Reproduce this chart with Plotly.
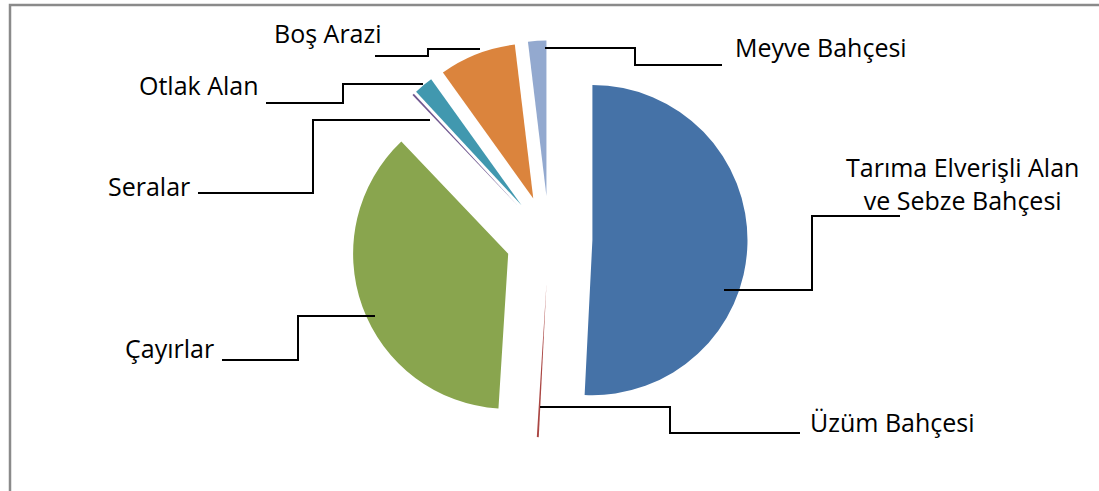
import plotly.graph_objects as go

# ---- data ----
categories = ["Tarıma Elverişli Alan ve Sebze Bahçesi", "Üzüm Bahçesi", "Çayırlar",
              "Seralar", "Otlak Alan", "Boş Arazi", "Meyve Bahçesi"]
label_texts = ["Tarıma Elverişli Alan<br>ve Sebze Bahçesi", "Üzüm Bahçesi", "Çayırlar",
               "Seralar", "Otlak Alan", "Boş Arazi", "Meyve Bahçesi"]
values = [50.8, 0.2, 36.9, 0.2, 2.0, 8.0, 1.9]

# ---- style ----
colors = ["#4572A7", "#AA4643", "#89A54E", "#71588F", "#4198AF", "#DB843D", "#93A9CF"]
W, H = 1099, 491
FONT = "Open Sans"
FSIZE = 25

def px(x, y):
    return x / W, 1 - y / H

# label placement (pixels): (x, center y, anchor)
label_pos = {
    "Tarıma Elverişli Alan ve Sebze Bahçesi": (962, 183, "center"),
    "Üzüm Bahçesi": (808, 422, "left"),
    "Çayırlar": (123, 348, "left"),
    "Seralar": (106, 186, "left"),
    "Otlak Alan": (137, 85, "left"),
    "Boş Arazi": (272, 33, "left"),
    "Meyve Bahçesi": (733, 47, "left"),
}
# leader line paths (pixels)
leaders = {
    "Tarıma Elverişli Alan ve Sebze Bahçesi": [(724, 290), (812, 290), (812, 216), (900, 216)],
    "Üzüm Bahçesi": [(540, 407), (670, 407), (670, 433), (800, 433)],
    "Çayırlar": [(375, 316), (298, 316), (298, 360), (222, 360)],
    "Seralar": [(430, 120), (313, 120), (313, 193), (198, 193)],
    "Otlak Alan": [(423, 84), (343, 84), (343, 103), (266, 103)],
    "Boş Arazi": [(480, 49), (428, 49), (428, 56), (375, 56)],
    "Meyve Bahçesi": [(545, 48), (635, 48), (635, 65), (722, 65)],
}

# pie box: centre (549, 239) px, box side ~397 px
cx, cy, box = 549, 239, 397
fig = go.Figure(go.Pie(
    labels=categories, values=values, sort=False, direction="clockwise", rotation=0,
    marker=dict(colors=colors, line=dict(width=0)),
    pull=[0.28] * len(values), textinfo="none", hoverinfo="label+percent",
    domain=dict(x=[(cx - box / 2) / W, (cx + box / 2) / W],
                y=[1 - (cy + box / 2) / H, 1 - (cy - box / 2) / H]),
    showlegend=False,
))

shapes = []
for cat in categories:
    pts = leaders[cat]
    path = "M " + " L ".join(f"{px(x, y)[0]:.5f},{px(x, y)[1]:.5f}" for x, y in pts)
    shapes.append(dict(type="path", xref="paper", yref="paper", path=path,
                       line=dict(color="black", width=2)))
# chart frame
shapes.append(dict(type="rect", xref="paper", yref="paper",
                   x0=px(10, 0)[0], x1=1.02, y0=-0.02, y1=px(0, 5)[1],
                   line=dict(color="#8a8a8a", width=2.5), fillcolor="rgba(0,0,0,0)"))

annotations = []
for cat, txt in zip(categories, label_texts):
    x, y, anc = label_pos[cat]
    ax, ay = px(x, y)
    annotations.append(dict(x=ax, y=ay, xref="paper", yref="paper", text=txt,
                            showarrow=False, xanchor=anc, yanchor="middle", align="center",
                            font=dict(family=FONT, size=FSIZE, color="black")))

fig.update_layout(width=W, height=H, margin=dict(l=0, r=0, t=0, b=0),
                  paper_bgcolor="white", plot_bgcolor="white",
                  shapes=shapes, annotations=annotations)
fig.write_html("out.html", config={"displayModeBar": False},
               post_script="document.body.style.margin='0';document.body.style.overflow='hidden';")
